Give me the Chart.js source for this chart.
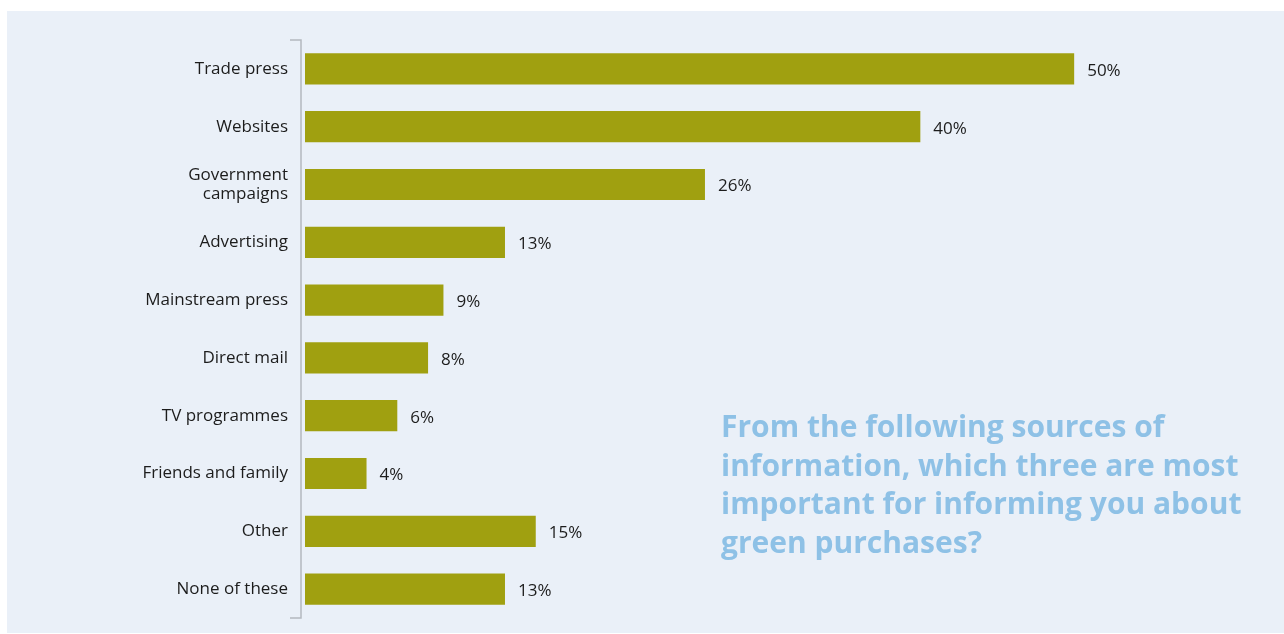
<!DOCTYPE html>
<html>
<head>
<meta charset="utf-8">
<script src="https://cdn.jsdelivr.net/npm/chart.js@4"></script>
<style>
  html, body { margin: 0; padding: 0; background: #fff; }
  #wrap { position: relative; width: 1284px; height: 634px; }
  #question {
    position: absolute; left: 721px; top: 407px; width: 555px;
    font-family: "Open Sans", "Noto Sans", sans-serif; font-weight: bold;
    font-size: 30px; line-height: 38.5px; color: #8ec1e6;
  }
</style>
</head>
<body>
<div id="wrap">
  <canvas id="myChart" width="1284" height="634"></canvas>
  <div id="question">From the following sources of information, which three are most important for informing you about green purchases?</div>
</div>
<script>
const categories = ['Trade press', 'Websites', ['Government', 'campaigns'], 'Advertising', 'Mainstream press',
    'Direct mail', 'TV programmes', 'Friends and family', 'Other', 'None of these']
const shares = [50, 40, 26, 13, 9, 8, 6, 4, 15, 13]

const fontFamily = '"Open Sans", "Noto Sans", sans-serif'

// light blue panel behind everything
const panel = {
    id: 'panel',
    beforeDraw(chart) {
        const ctx = chart.ctx
        ctx.save()
        ctx.fillStyle = '#eaf0f8'
        ctx.fillRect(7, 11, 1277, 622)
        ctx.restore()
    }
}

// bracket-style axis line and value labels
const extras = {
    id: 'extras',
    afterDatasetsDraw(chart) {
        const ctx = chart.ctx
        const area = chart.chartArea
        ctx.save()
        ctx.strokeStyle = '#b4b8bf'
        ctx.lineWidth = 1.5
        ctx.beginPath()
        ctx.moveTo(290, area.top)
        ctx.lineTo(area.left - 4, area.top)
        ctx.lineTo(area.left - 4, area.bottom)
        ctx.lineTo(290, area.bottom)
        ctx.stroke()

        ctx.fillStyle = '#1c1c1c'
        ctx.font = '17px ' + fontFamily
        ctx.textBaseline = 'middle'
        chart.getDatasetMeta(0).data.forEach((bar, i) => {
            ctx.fillText(shares[i] + '%', bar.x + 13, bar.y + 2)
        })
        ctx.restore()
    }
}

const ctx = document.getElementById('myChart').getContext('2d')
new Chart(ctx, {
    type: 'bar',
    data: {
        labels: categories,
        datasets: [{
            data: shares,
            backgroundColor: '#a0a010',
            barPercentage: 0.54,
            categoryPercentage: 1
        }]
    },
    options: {
        indexAxis: 'y',
        responsive: false,
        animation: false,
        layout: { padding: { top: 40, bottom: 16, right: 56, left: 0 } },
        plugins: { legend: { display: false }, tooltip: { enabled: false } },
        scales: {
            x: {
                min: 0, max: 60,
                display: false
            },
            y: {
                afterFit(scale) {
                    scale.width = 305
                    // labels sit inside their bands, no extra room needed
                    scale.paddingTop = 0
                    scale.paddingBottom = 0
                },
                grid: { display: false, drawTicks: false },
                border: { display: false },
                ticks: {
                    color: '#1c1c1c',
                    padding: 17,
                    font: { family: fontFamily, size: 17, lineHeight: 1.1 }
                }
            }
        }
    },
    plugins: [panel, extras]
})
</script>
</body>
</html>
